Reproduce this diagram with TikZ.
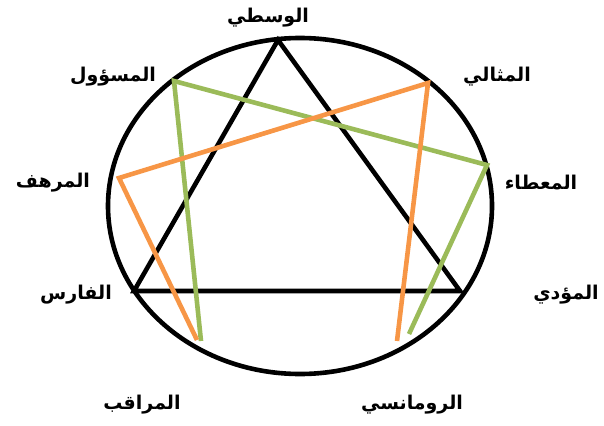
\documentclass[tikz,border=0pt]{standalone}
\usepackage{fontspec}
\newfontfamily\arabicfont[Script=Arabic]{DejaVu Sans}
\TeXXeTstate=1
\definecolor{enneaorange}{HTML}{F79646}
\definecolor{enneagreen}{HTML}{9BBB59}
\tikzset{
  typelabel/.style={font=\arabicfont\bfseries\fontsize{19}{22}\selectfont, inner sep=0pt},
  ring/.style={line width=4.6pt, black},
  blackline/.style={line width=4.6pt, black, line join=miter},
  greenline/.style={line width=4.6pt, enneagreen, line join=miter},
  orangeline/.style={line width=4.6pt, enneaorange, line join=miter}
}
\begin{document}
\begin{tikzpicture}[x=1pt, y=-1pt]
  \useasboundingbox (0,0) rectangle (604,425);
  \draw[ring] (300,206) ellipse [x radius=192, y radius=168];
  \coordinate (nine) at (278,40);
  \coordinate (three) at (460,291);
  \coordinate (six) at (134,291);
  \coordinate (one) at (428,83);
  \coordinate (two) at (487,165);
  \coordinate (four) at (397,341);
  \coordinate (five) at (201,341);
  \coordinate (seven) at (174,81);
  \coordinate (eight) at (119,178);
  \coordinate (fourg) at (409,334);
  \coordinate (fiveo) at (197,340);
  \draw[blackline] (nine) -- (three) -- (six) -- cycle;
  \draw[greenline] (five) -- (seven) -- (two) -- (fourg);
  \draw[orangeline] (fiveo) -- (eight) -- (one) -- (four);
  \node[typelabel] (lnine) at (268,18) {\beginR الوسطي\endR};
  \node[typelabel] (lone) at (497,77) {\beginR المثالي\endR};
  \node[typelabel] (ltwo) at (541,183) {\beginR المعطاء\endR};
  \node[typelabel] (lthree) at (566,295) {\beginR المؤدي\endR};
  \node[typelabel] (lfour) at (412,405) {\beginR الرومانسي\endR};
  \node[typelabel] (lfive) at (142,405) {\beginR المراقب\endR};
  \node[typelabel] (lsix) at (76,295) {\beginR الفارس\endR};
  \node[typelabel] (lseven) at (113,77) {\beginR المسؤول\endR};
  \node[typelabel] (leight) at (53,183) {\beginR المرهف\endR};
\end{tikzpicture}
\end{document}
